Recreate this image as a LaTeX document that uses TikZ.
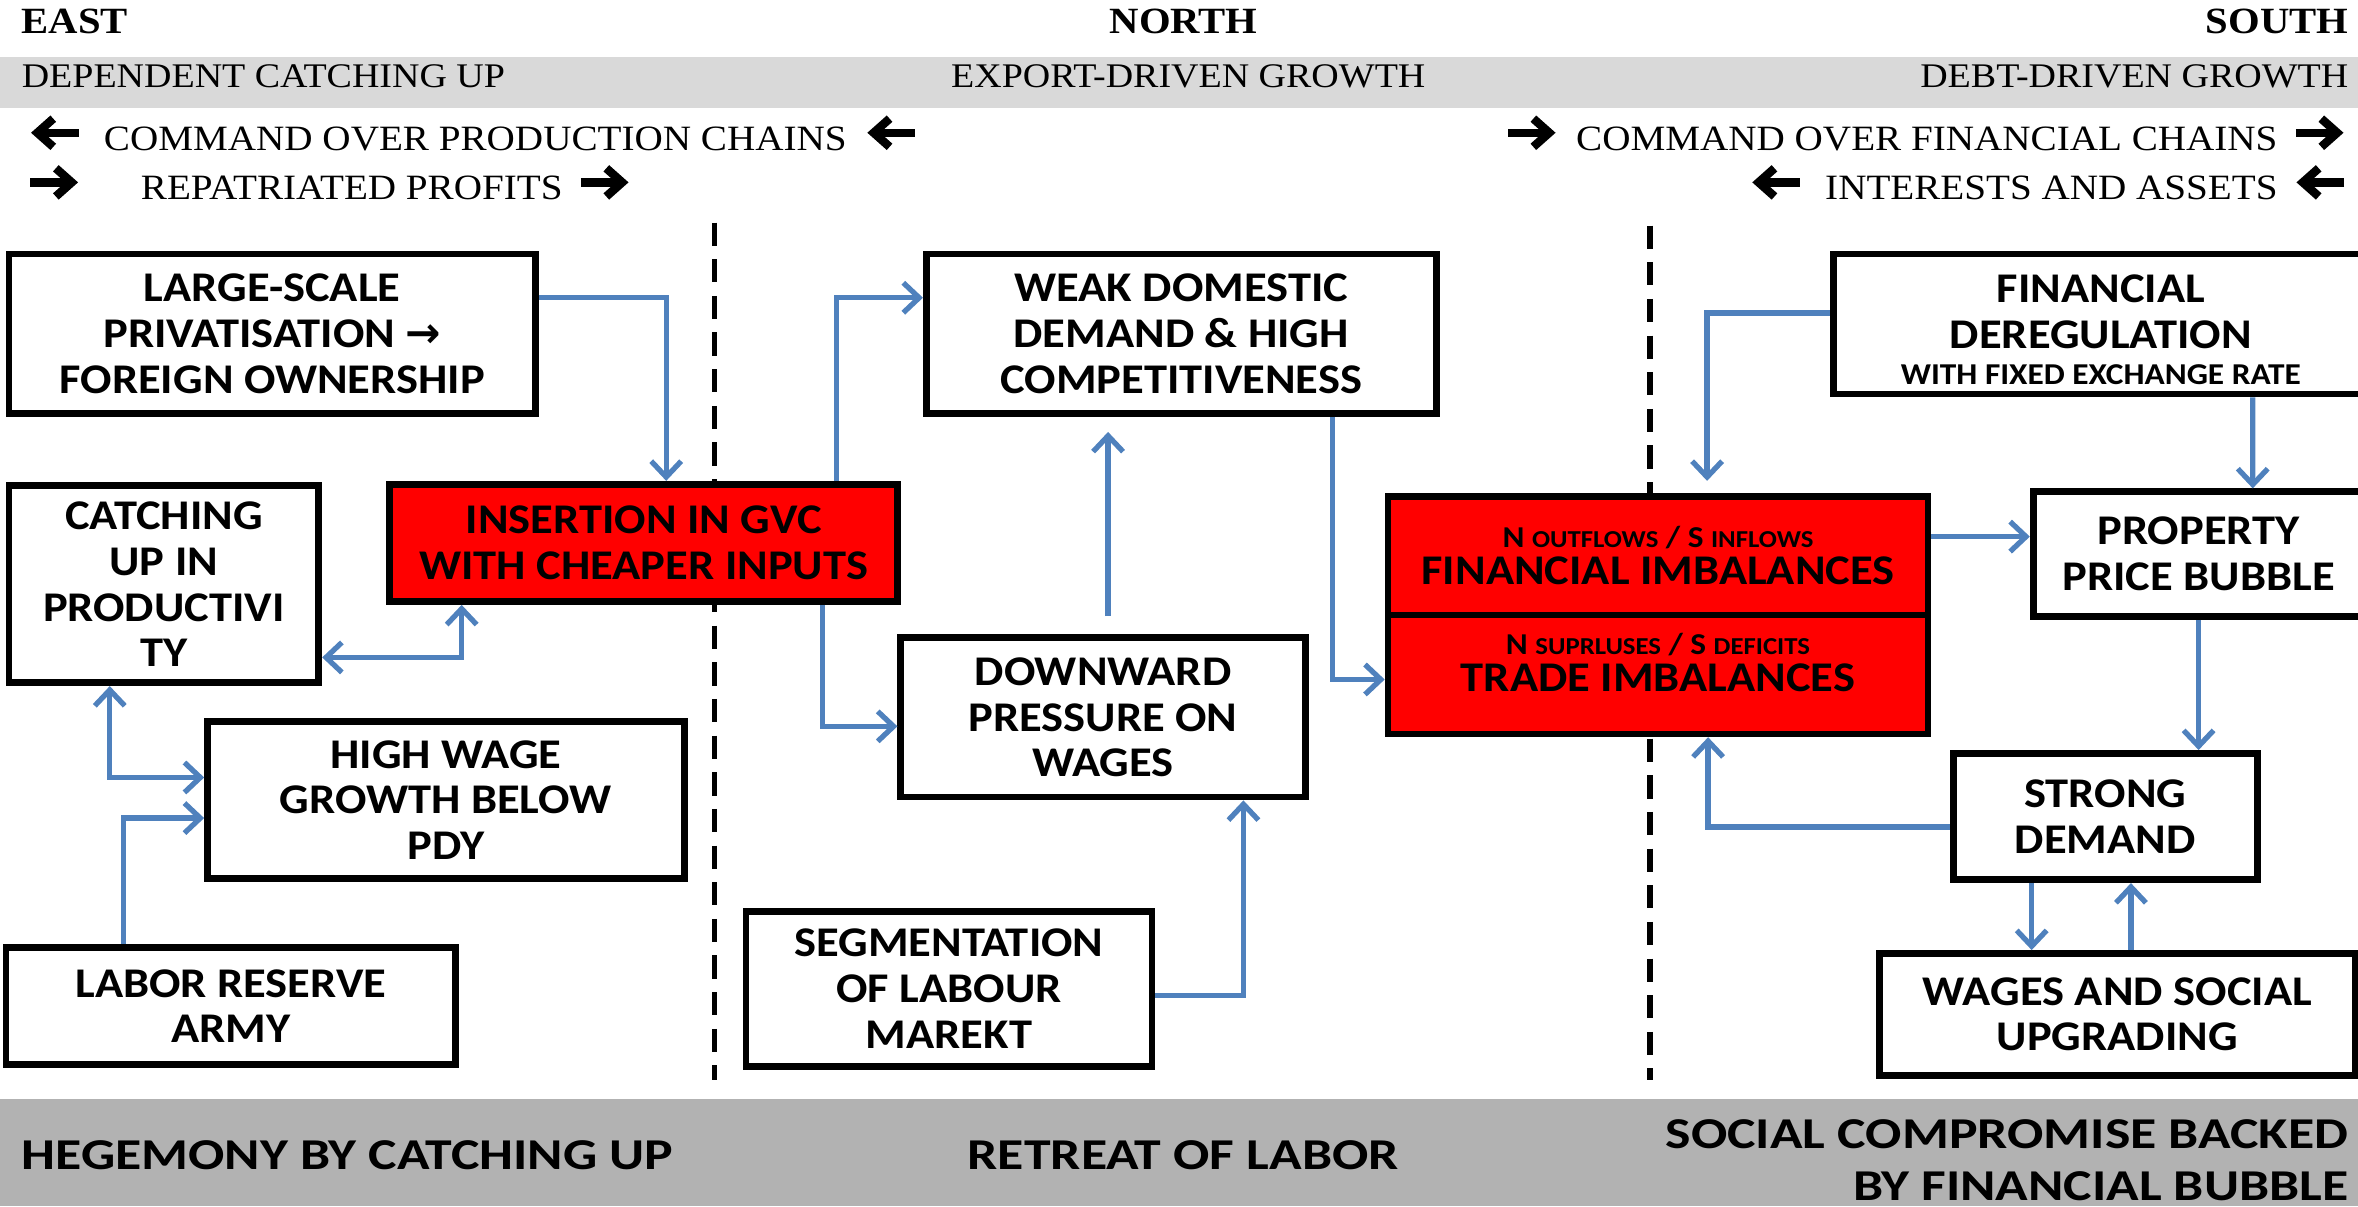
\documentclass[tikz,border=0pt]{standalone}
\usepackage{fontspec}
\setmainfont{Liberation Serif}[FakeStretch=1.1]
\newfontfamily\calfont{Carlito}[FakeStretch=1.1]
\newfontfamily\regimefam{Carlito}[FakeStretch=1.22]
\newfontfamily\arrowfont{DejaVu Sans}
\usetikzlibrary{arrows.meta}

\definecolor{linkblue}{HTML}{4F81BD}
\definecolor{bandlight}{HTML}{D9D9D9}
\definecolor{banddark}{HTML}{B2B2B2}

\newcommand{\boxfont}{\calfont\bfseries\fontsize{12}{13}\selectfont}
\newcommand{\notefont}{\calfont\bfseries\fontsize{8.6}{10}\selectfont}
\newcommand{\imbsmall}{\calfont\bfseries\fontsize{6.9}{8}\selectfont}
\newcommand{\regimefont}{\regimefam\bfseries\fontsize{12.5}{14.5}\selectfont}
\newcommand{\rarrow}{\tikz[baseline=-5pt]\draw[line width=2.4pt,-{Straight Barb[length=4.5pt,width=8pt]}] (0pt,0pt) -- (13.5pt,0pt);}
\newcommand{\larrow}{\tikz[baseline=-5pt]\draw[line width=2.4pt,-{Straight Barb[length=4.5pt,width=8pt]}] (13.5pt,0pt) -- (0pt,0pt);}

\begin{document}
\begin{tikzpicture}[x=0.015cm, y=-0.015cm]
    \tikzstyle{box}=[draw=black, line width=1.9pt, fill=white, align=center, inner sep=0pt, font=\boxfont]
    \tikzstyle{redbox}=[box, fill=red]
    \tikzstyle{link}=[draw=linkblue, line width=1.5pt, -{Straight Barb[length=4.5pt,width=8.5pt]}]
    \tikzstyle{dlink}=[link, {Straight Barb[length=4.5pt,width=8.5pt]}-{Straight Barb[length=4.5pt,width=8.5pt]}]
    \tikzstyle{divider}=[line width=1.6pt, dash pattern=on 6.6pt off 3.8pt]
    \tikzstyle{region}=[inner sep=0pt, font=\bfseries\fontsize{10.5}{12}\selectfont]
    \tikzstyle{model}=[inner sep=0pt, font=\fontsize{9.8}{12}\selectfont]
    \tikzstyle{flow}=[inner sep=0pt, font=\fontsize{10.1}{12}\selectfont]
    \tikzstyle{regime}=[inner sep=0pt, font=\regimefont]
    \useasboundingbox (0,0) rectangle (1568,802);

    % bands
    \fill[bandlight] (0,38) rectangle (1568,72);
    \fill[banddark] (0,731) rectangle (1568,802);

    % heads
    \node[region, anchor=base west] (east) at (14,22) {EAST};
    \node[region, anchor=base] (north) at (787,22) {NORTH};
    \node[region, anchor=base east] (south) at (1562,22) {SOUTH};
    \node[model, anchor=base west] (eastmodel) at (14,58) {DEPENDENT CATCHING UP};
    \node[model, anchor=base west] (northmodel) at (632,58) {EXPORT-DRIVEN GROWTH};
    \node[model, anchor=base east] (southmodel) at (1562,58) {DEBT-DRIVEN GROWTH};
    \node[flow, anchor=base west] (prodchains) at (17,100) {\larrow\hspace{6pt}COMMAND OVER PRODUCTION CHAINS\hspace{4.5pt}\larrow};
    \node[flow, anchor=base west] (profits) at (17,133) {\rarrow\hspace{16.5pt}REPATRIATED PROFITS\hspace{4pt}\rarrow};
    \node[flow, anchor=base east] (finchains) at (1562,100) {\rarrow\hspace{4.5pt}COMMAND OVER FINANCIAL CHAINS\hspace{4pt}\rarrow};
    \node[flow, anchor=base east] (interests) at (1562,133) {\larrow\hspace{6pt}INTERESTS AND ASSETS\hspace{4pt}\larrow};

    % dividers
    \draw[divider] (475,148) -- (475,718);
    \draw[divider] (1097,150) -- (1097,718);

    % east
    \node[box, minimum width=5.25cm, minimum height=1.59cm] (large) at (181,222) {LARGE-SCALE\\PRIVATISATION {\arrowfont\bfseries →}\\FOREIGN OWNERSHIP};
    \node[box, minimum width=3.09cm, minimum height=1.965cm] (catch) at (109,388.5) {CATCHING\\UP IN\\PRODUCTIVI\\TY};
    \node[redbox, minimum width=5.07cm, minimum height=1.17cm] (gvc) at (428,361) {INSERTION IN GVC\\WITH CHEAPER INPUTS};
    \node[box, minimum width=4.755cm, minimum height=1.56cm] (wage) at (296.5,532) {HIGH WAGE\\GROWTH BELOW\\PDY};
    \node[box, minimum width=4.485cm, minimum height=1.17cm] (army) at (153.5,669) {LABOR RESERVE\\ARMY};

    % north
    \node[box, minimum width=5.085cm, minimum height=1.59cm] (weak) at (785.5,222) {WEAK DOMESTIC\\DEMAND \& HIGH\\COMPETITIVENESS};
    \node[box, minimum width=4.035cm, minimum height=1.59cm] (down) at (733.5,477) {DOWNWARD\\PRESSURE ON\\WAGES};
    \node[box, minimum width=4.05cm, minimum height=1.545cm] (segm) at (631,657.5) {SEGMENTATION\\OF LABOUR\\MAREKT};

    % imbalances
    \node[redbox, minimum width=5.385cm, minimum height=1.185cm] (fin) at (1102.5,369.5) {{\notefont N {\imbsmall OUTFLOWS} / S {\imbsmall INFLOWS}}\\[-2.5pt]FINANCIAL IMBALANCES};
    \node[redbox, minimum width=5.385cm, minimum height=1.185cm] (trade) at (1102.5,448.5) {{\notefont N {\imbsmall SUPRLUSES} / S {\imbsmall DEFICITS}}\\[-2.5pt]TRADE IMBALANCES\\[-6pt]\mbox{}};

    % south
    \node[box, minimum width=5.34cm, minimum height=1.395cm] (dereg) at (1397,215.5) {\mbox{}\\[-1.9pt]FINANCIAL\\DEREGULATION\\[-2.8pt]{\notefont WITH FIXED EXCHANGE RATE}};
    \node[box, minimum width=3.3cm, minimum height=1.245cm] (prop) at (1462,368.5) {PROPERTY\\PRICE BUBBLE};
    \node[box, minimum width=3.03cm, minimum height=1.26cm] (strong) at (1400,543) {STRONG\\DEMAND};
    \node[box, minimum width=4.74cm, minimum height=1.215cm] (social) at (1408,674.5) {WAGES AND SOCIAL\\UPGRADING};

    % regimes
    \node[regime, anchor=base west] (hegemony) at (14,778) {HEGEMONY BY CATCHING UP};
    \node[regime, anchor=base west] (retreat) at (643,778) {RETREAT OF LABOR};
    \node[regime, anchor=east, align=right] (compromise) at (1562,771.5) {SOCIAL COMPROMISE BACKED\\BY FINANCIAL BUBBLE};

    % links
    \draw[link] ([yshift=0.36cm]large.east) -| ([xshift=0.225cm]gvc.north);
    \draw[link] ([xshift=1.92cm]gvc.north) |- ([yshift=0.36cm]weak.west);
    \draw[link] ([xshift=1.785cm]gvc.south) |- ([yshift=-0.09cm]down.west);
    \draw[dlink] ([yshift=-0.73cm]catch.east) -| ([xshift=-1.815cm]gvc.south);
    \draw[dlink] ([xshift=-0.54cm]catch.south) |- ([yshift=0.225cm]wage.west);
    \draw[link] ([xshift=-1.07cm]army.north) |- ([yshift=-0.18cm]wage.west);
    \draw[link, shorten <=0.18cm, shorten >=0.15cm] ([xshift=0.05cm]down.north) -- ([xshift=0.05cm]down.north |- weak.south);
    \draw[link] ([xshift=1.51cm]weak.south) |- ([yshift=-0.05cm]trade.west);
    \draw[link] ([yshift=-0.07cm]segm.east) -| ([xshift=1.4cm]down.south);
    \draw[link, shorten >=0.12cm] ([yshift=0.11cm]dereg.west) -| ([xshift=0.49cm]fin.north);
    \draw[link] ([xshift=1.515cm]dereg.south) -- ([xshift=0.54cm]prop.north);
    \draw[link] ([yshift=0.19cm]fin.east) -- ([yshift=0.19cm]fin.east -| prop.west);
    \draw[link] (prop.south) -- (prop.south |- strong.north);
    \draw[link] ([yshift=-0.105cm]strong.west) -| ([xshift=0.5cm]trade.south);
    \draw[link] ([xshift=-0.735cm]strong.south) -- ([xshift=-0.735cm]strong.south |- social.north);
    \draw[link] ([xshift=0.135cm]social.north) -- ([xshift=0.135cm]social.north |- strong.south);
\end{tikzpicture}
\end{document}
